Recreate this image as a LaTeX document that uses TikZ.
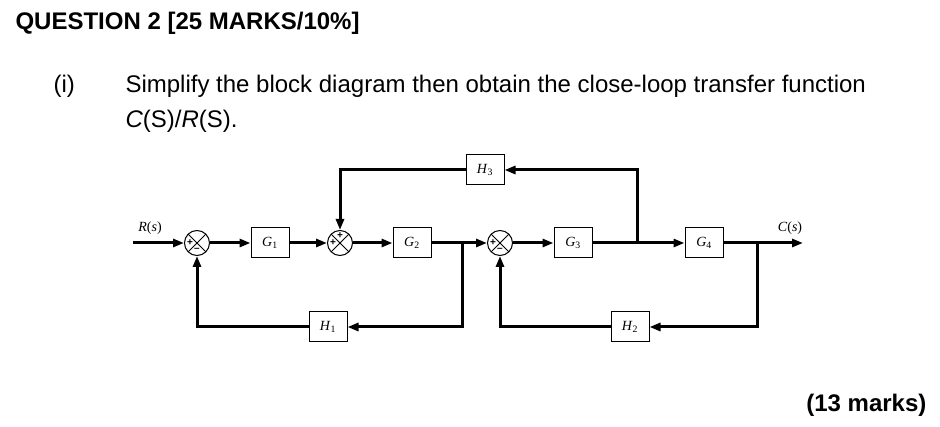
\documentclass[tikz,border=0pt]{standalone}
\usepackage{fontspec}
\setmainfont{Liberation Sans}
\newfontfamily\diagfont{Liberation Serif}
\usetikzlibrary{arrows.meta, positioning, calc}
\newcommand{\blk}[2]{\textit{#1}\textsubscript{#2}}
\begin{document}
\begin{tikzpicture}[x=1pt, y=-1pt,
        block/.style={rectangle, draw, line width=1pt, minimum width=38pt, minimum height=30pt, font=\diagfont\fontsize{14}{16}\selectfont},
        sum/.style={circle, draw, line width=1pt, minimum size=25pt, inner sep=0pt,
            path picture={\draw[line width=1pt] ($(path picture bounding box.north west)!0.15!(path picture bounding box.south east)$) -- ($(path picture bounding box.north west)!0.85!(path picture bounding box.south east)$);
                \draw[line width=1pt] ($(path picture bounding box.north east)!0.15!(path picture bounding box.south west)$) -- ($(path picture bounding box.north east)!0.85!(path picture bounding box.south west)$);}},
        sgn/.style={font=\fontsize{10}{10}\selectfont\bfseries, inner sep=0pt},
        arrow/.style={-{Triangle[length=11pt, width=8pt]}, line width=3pt},
        line/.style={line width=3pt}
    ]
    \useasboundingbox (0,0) rectangle (940,427);
    % Text
    \node[anchor=base west, font=\bfseries\fontsize{24}{28}\selectfont] (title) at (12,30) {QUESTION 2 [25 MARKS/10\%]};
    \node[anchor=base west, font=\fontsize{24}{28}\selectfont] (num) at (50,93) {(i)};
    \node[anchor=base west, font=\fontsize{24}{28}\selectfont, align=left] (task) at (122,93) {Simplify the block diagram then obtain the close-loop transfer function};
    \node[anchor=base west, font=\fontsize{24}{28}\selectfont] (task2) at (122,128) {\textit{C}(S)/\textit{R}(S).};
    \node[anchor=base east, font=\bfseries\fontsize{24}{28}\selectfont] (marks) at (930,412) {(13 marks)};

    % Blocks
    \coordinate (in) at (133,243);
    \node[sum] (s1) at (197,243) {};
    \node[block] (g1) at (270,243) {\blk{G}{1}};
    \node[sum] (s2) at (340,243) {};
    \node[block] (g2) at (412,243) {\blk{G}{2}};
    \node[sum] (s3) at (500,243) {};
    \node[block] (g3) at (573,243) {\blk{G}{3}};
    \node[block] (g4) at (704,243) {\blk{G}{4}};
    \coordinate (out) at (803,243);
    \node[block] (h3) at (485,170) {\blk{H}{3}};
    \node[block] (h1) at (328,327) {\blk{H}{1}};
    \node[block] (h2) at (630,327) {\blk{H}{2}};

    % Branch points
    \coordinate (b1) at (462,243);
    \coordinate (b2) at (637,243);
    \coordinate (b3) at (757,243);

    % Signs
    \node[sgn] at ($(s1.center)+(-7,0)$) {+};
    \node[sgn] at ($(s1.center)+(0,7)$) {--};
    \node[sgn] at ($(s2.center)+(-7,0)$) {+};
    \node[sgn] at ($(s2.center)+(0,-7)$) {+};
    \node[sgn] at ($(s3.center)+(-7,0)$) {+};
    \node[sgn] at ($(s3.center)+(0,7)$) {--};

    % Labels
    \node[font=\diagfont\fontsize{14}{16}\selectfont, anchor=south] (rl) at (150,238) {\textit{R}(\textit{s})};
    \node[font=\diagfont\fontsize{14}{16}\selectfont, anchor=south] (cl) at (790,238) {\textit{C}(\textit{s})};

    % Forward path
    \draw[arrow] (in) -- (s1);
    \draw[arrow] (s1) -- (g1);
    \draw[arrow] (g1) -- (s2);
    \draw[arrow] (s2) -- (g2);
    \draw[arrow] (g2) -- (s3);
    \draw[arrow] (s3) -- (g3);
    \draw[arrow] (g3) -- (g4);
    \draw[arrow] (g4) -- (out);

    % Feedback loops
    \draw[arrow] (b1) |- (h1);
    \draw[arrow] (h1) -| (s1);
    \draw[arrow] (b3) |- (h2);
    \draw[arrow] (h2) -| (s3);
    \draw[arrow] (b2) |- (h3);
    \draw[arrow] (h3) -| (s2);
\end{tikzpicture}
\end{document}
